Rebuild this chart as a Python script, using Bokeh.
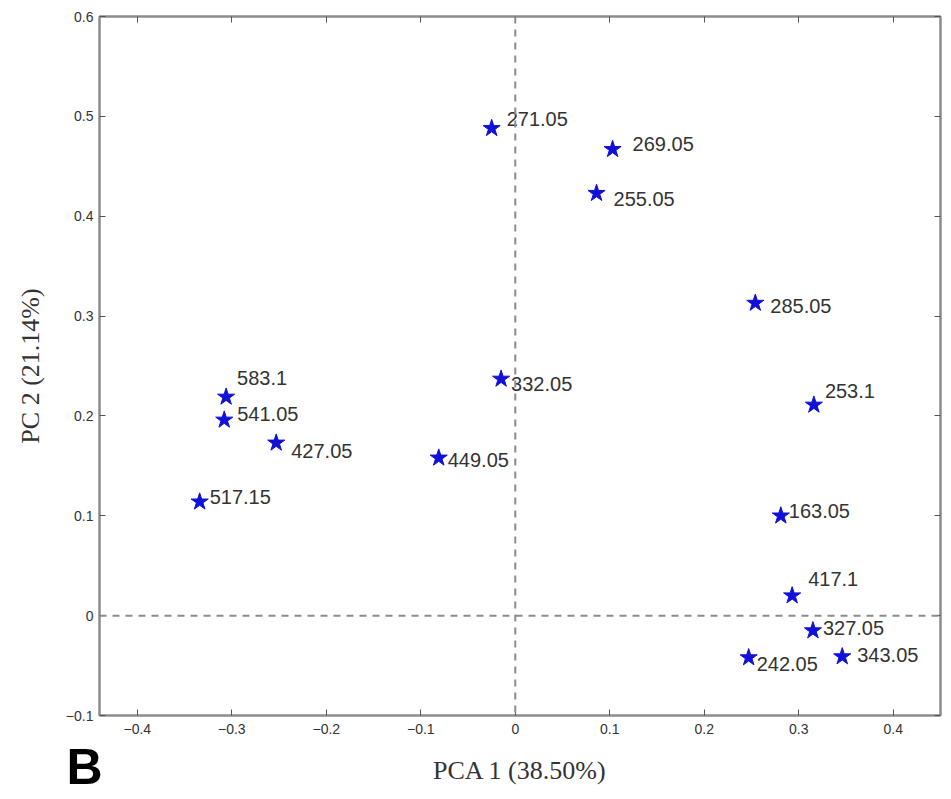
from bokeh.plotting import figure
from bokeh.models import ColumnDataSource, LinearAxis, Span, Title, Range1d, FixedTicker
from bokeh.core.properties import value
from bokeh.embed import file_html
from bokeh.resources import INLINE

labels = ["271.05", "269.05", "255.05", "285.05", "332.05", "253.1", "583.1", "541.05",
          "427.05", "449.05", "517.15", "163.05", "417.1", "327.05", "242.05", "343.05"]
pc1 = [-0.025, 0.103, 0.086, 0.254, -0.015, 0.316, -0.306, -0.308,
       -0.253, -0.081, -0.334, 0.281, 0.293, 0.315, 0.247, 0.346]
pc2 = [0.488, 0.467, 0.423, 0.313, 0.237, 0.211, 0.219, 0.196,
       0.173, 0.158, 0.114, 0.100, 0.020, -0.015, -0.042, -0.041]
# label placement offsets (screen pixels)
dx = [15, 20, 17, 15, 10, 11, 11, 13, 15, 9, 10, 8, 16, 10, 8, 15]
dy = [-9, -5, 6, 3, 5, -14, -19, -6, 8, 2, -5, -5, -17, -3, 6, -2]

x_ticks = [-0.4, -0.3, -0.2, -0.1, 0, 0.1, 0.2, 0.3, 0.4]
y_ticks = [-0.1, 0, 0.1, 0.2, 0.3, 0.4, 0.5, 0.6]

src = ColumnDataSource(dict(x=pc1, y=pc2, t=labels, dx=dx, dy=dy))

p = figure(frame_width=841, frame_height=699, output_backend="svg", toolbar_location=None,
           x_range=Range1d(-0.44, 0.45), y_range=Range1d(-0.1, 0.6),
           min_border_left=99, min_border_right=11, min_border_top=16, min_border_bottom=10,
           x_axis_label="PCA 1 (38.50%)", y_axis_label="PC 2 (21.14%)")
p.grid.visible = False
p.outline_line_color = "#8c8c8c"
p.outline_line_width = 2
p.background_fill_color = "white"
p.border_fill_color = "white"

for ax in p.xaxis:
    ax.ticker = FixedTicker(ticks=x_ticks)
for ax in p.yaxis:
    ax.ticker = FixedTicker(ticks=y_ticks)

def style(ax):
    ax.axis_line_color = "#8c8c8c"
    ax.axis_line_width = 2
    ax.major_tick_in = 6
    ax.major_tick_out = 0
    ax.minor_tick_line_color = None
    ax.major_tick_line_color = "#555555"
    ax.major_label_text_font = "Liberation Sans"
    ax.major_label_text_font_size = "14px"
    ax.major_label_text_color = "#333333"
    ax.axis_label_text_font = "Liberation Serif"
    ax.axis_label_text_font_size = "26px"
    ax.axis_label_text_font_style = "normal"
    ax.axis_label_text_color = "#333333"

style(p.xaxis[0])
style(p.yaxis[0])
p.xaxis[0].major_label_standoff = 8
p.yaxis[0].major_label_standoff = 6
p.xaxis[0].axis_label_standoff = 19
p.yaxis[0].axis_label_standoff = 18

top = LinearAxis(ticker=FixedTicker(ticks=x_ticks), major_label_overrides={t: "" for t in x_ticks})
style(top)
top.major_label_standoff = 0
p.add_layout(top, "above")
right = LinearAxis(ticker=FixedTicker(ticks=y_ticks), major_label_overrides={t: "" for t in y_ticks})
style(right)
right.major_label_standoff = 0
p.add_layout(right, "right")

p.add_layout(Span(location=0, dimension="height", line_color="#8c8c8c", line_dash="7 6", line_width=2))
p.add_layout(Span(location=0, dimension="width", line_color="#8c8c8c", line_dash="7 6", line_width=2))

p.scatter("x", "y", source=src, marker="star", size=18, fill_color="#1010d8", line_color="#1010d8")
p.text(x="x", y="y", text="t", source=src, x_offset="dx", y_offset="dy",
       text_font_size="20px", text_color="#333333", text_baseline="middle", text_align="left",
       text_font=value("Liberation Sans"))

p.add_layout(Title(text="B", align="left", vertical_align="top", offset=-33, standoff=-97,
                   text_font="Liberation Sans", text_font_size="50px", text_font_style="bold",
                   text_color="black"), "below")

open("out.html", "w").write(file_html(p, INLINE))
